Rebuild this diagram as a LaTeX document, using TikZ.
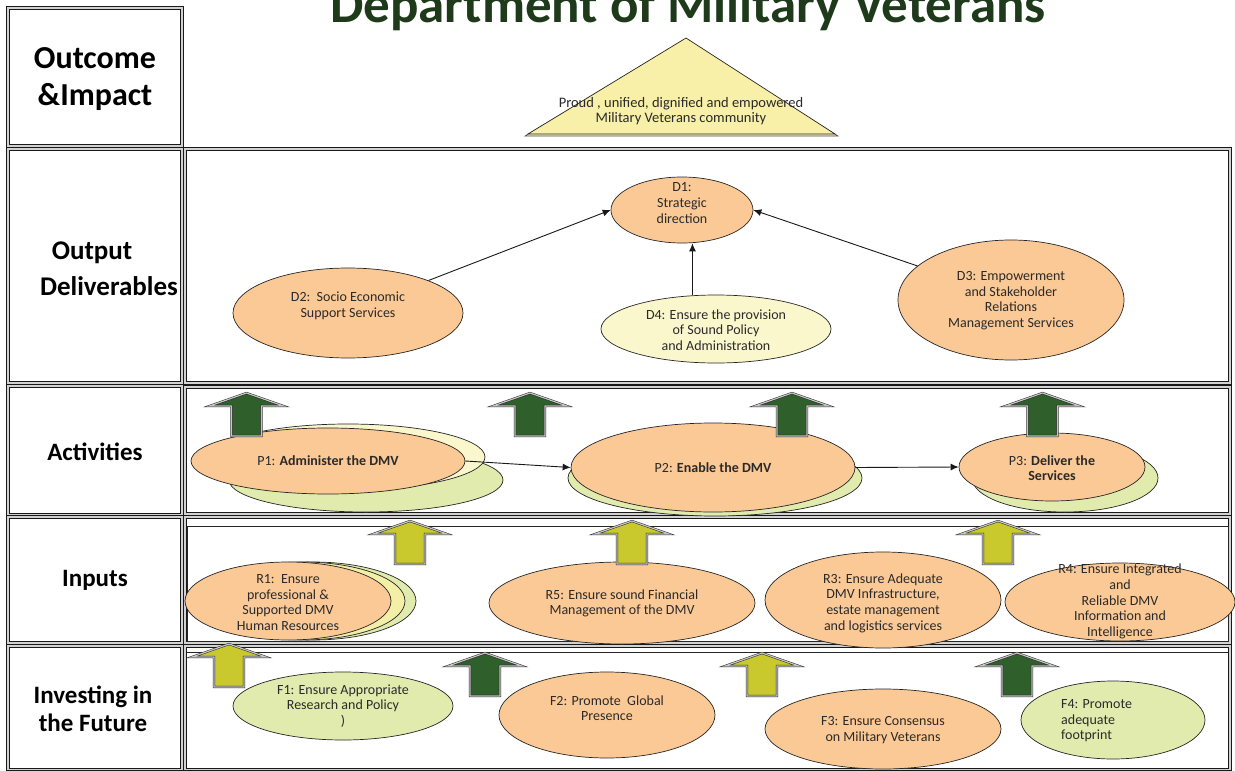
\documentclass[tikz,border=0pt]{standalone}
\usepackage{fontspec}
\setmainfont{Carlito}
\usetikzlibrary{shapes.geometric,arrows.meta}
\definecolor{peach}{HTML}{FBC996}
\definecolor{lgreen}{HTML}{E2EBAE}
\definecolor{lyellow}{HTML}{FBF7CC}
\definecolor{myellow}{HTML}{F3EFA6}
\definecolor{tri}{HTML}{F8EFA8}
\definecolor{dgreen}{HTML}{2F5F2B}
\definecolor{ygreen}{HTML}{C9C92E}
\definecolor{titlec}{HTML}{1E3A1B}
\definecolor{txtc}{HTML}{2A2A2A}
\tikzset{
  frame/.style={draw=black!90, line width=0.9pt, double=gray!35, double distance=1.3pt},
  oval/.style={ellipse, draw=black!85, line width=0.7pt, inner sep=0pt},
  etext/.style={align=center, text=txtc, font=\fontsize{14}{15.6}\selectfont, inner sep=0pt},
  rowlabel/.style={align=center, text=black, inner sep=0pt},
  link/.style={draw=black!90, line width=0.9pt, -{Latex[length=8pt,width=7pt]}},
  blk/.style={draw=black!85, line width=0.5pt, double=gray!45, double distance=1.2pt, line join=miter},
}
\newcommand\blockup[3]{% x, apex y, colour
  \path[blk, fill=#3] (#1,#2) -- ++(37,13) -- ++(-22,0) -- ++(0,30) -- ++(-30,0) -- ++(0,-30) -- ++(-22,0) -- cycle;
}
\begin{document}
\begin{tikzpicture}[x=1pt,y=-1pt]
\useasboundingbox (0,0) rectangle (1235,771);
\clip (0,0) rectangle (1235,771);

% title
\node[font=\bfseries\fontsize{53}{53}\selectfont, text=titlec, anchor=base, inner sep=0pt] (title) at (688,22) {Department of Military Veterans};

% frames
\draw[frame] (8,8) rectangle (182,146);
\draw[frame] (8,149) rectangle (182,383);
\draw[frame] (8,386) rectangle (182,515);
\draw[frame] (8,517) rectangle (182,643);
\draw[frame] (8,646) rectangle (182,769.5);
\draw[frame] (185,149) rectangle (1230,383);
\draw[frame] (185,387) rectangle (1230,514);
\draw[frame] (185,517) rectangle (1230,643);
\draw[black!85, line width=0.6pt] (187,526) rectangle (1228,641);
\draw[frame] (185,646) rectangle (1230,769.5);
\draw[black!85, line width=0.6pt] (187,652) -- (1228,652);

% row labels
\node[rowlabel, font=\bfseries\fontsize{32}{37}\selectfont] (lab1) at (95,79) {Outcome\\\&Impact};
\node[rowlabel, font=\bfseries\fontsize{27}{36}\selectfont, anchor=base] (lab2a) at (92,259) {Output};
\node[rowlabel, font=\bfseries\fontsize{27}{36}\selectfont, anchor=base] (lab2b) at (109,295) {Deliverables};
\node[rowlabel, font=\bfseries\fontsize{25}{28}\selectfont] (lab3) at (95,452) {Activities};
\node[rowlabel, font=\bfseries\fontsize{25}{28}\selectfont] (lab4) at (95,580) {Inputs};
\node[rowlabel, font=\bfseries\fontsize{25}{28}\selectfont] (lab5) at (93,709) {Investing in\\the Future};

% outcome triangle
\draw[draw=black!70, fill=tri, line width=0.6pt] (525,136) -- (684,40) -- (838,136) -- cycle;
\draw[draw=black!85, fill=tri, line width=0.7pt] (528,134) -- (686,38) -- (835,134) -- cycle;
\node[etext, font=\fontsize{14.5}{15.5}\selectfont] (outcome) at (681,111) {Proud , unified, dignified and empowered\\Military Veterans community};

% deliverables
\node[oval, fill=peach, minimum width=142, minimum height=66] (d1) at (682,210) {};
\node[oval, fill=peach, minimum width=230, minimum height=90] (d2) at (348,313) {};
\node[oval, fill=lyellow, minimum width=230, minimum height=68] (d4) at (716,329) {};
\node[oval, fill=peach, minimum width=226, minimum height=120] (d3) at (1011,300) {};
\node[etext] (d1t) at (682,203) {D1:\\Strategic\\direction};
\node[etext] (d2t) at (348,306) {D2:\ \ Socio Economic\\Support Services};
\node[etext] (d4t) at (716,330) {D4: Ensure the provision\\of Sound Policy\\and Administration};
\node[etext] (d3t) at (1011,300.5) {D3: Empowerment\\and Stakeholder\\Relations\\Management Services};
\draw[link] (d2.22) -- (d1.west);
\draw[link] (d4.125) -- (d4.125 |- d1.south);
\draw[link] (d3.160) -- (d1.east);

% activities
\node[oval, fill=lgreen, minimum width=274, minimum height=64] (p1c) at (366,480) {};
\node[oval, fill=lyellow, minimum width=274, minimum height=66] (p1b) at (348,457) {};
\node[oval, fill=peach, minimum width=274, minimum height=66] (p1) at (328,461) {};
\node[oval, fill=lgreen, minimum width=294, minimum height=76] (p2b) at (715,478) {};
\node[oval, fill=peach, minimum width=284, minimum height=89] (p2) at (713,467.5) {};
\node[oval, fill=lgreen, minimum width=186, minimum height=68] (p3b) at (1065,478) {};
\node[oval, fill=peach, minimum width=186, minimum height=68] (p3) at (1052,467) {};
\node[etext] (p1t) at (328,461) {P1: \textbf{Administer the DMV}};
\node[etext] (p2t) at (713,468) {P2: \textbf{Enable the DMV}};
\node[etext] (p3t) at (1052,468) {P3: \textbf{Deliver the}\\\textbf{Services}};
\draw[link] (p1.east) -- (p2.west);
\draw[link] (p2.east) -- (p3.west);

% inputs
\node[oval, fill=lgreen, minimum width=206, minimum height=78] (r1c) at (313,601) {};
\node[oval, fill=myellow, minimum width=206, minimum height=78] (r1b) at (302,601) {};
\node[oval, fill=peach, minimum width=206, minimum height=78] (r1) at (288,601) {};
\node[oval, fill=peach, minimum width=266, minimum height=82] (r5) at (622,603) {};
\node[oval, fill=peach, minimum width=236, minimum height=96] (r3) at (883,600) {};
\node[oval, fill=peach, minimum width=230, minimum height=78] (r4) at (1120,602) {};
\node[etext] (r1t) at (288,602.5) {R1:\ \ Ensure\\professional \&\\Supported DMV\\Human Resources};
\node[etext] (r5t) at (622,603.5) {R5: Ensure sound Financial\\Management of the DMV};
\node[etext] (r3t) at (883,603) {R3: Ensure Adequate\\DMV Infrastructure,\\estate management\\and logistics services};
\node[etext] (r4t) at (1120,601.5) {R4: Ensure Integrated\\and\\Reliable DMV\\Information and\\Intelligence};

% investing
\node[oval, fill=lgreen, minimum width=220, minimum height=68] (f1) at (343,706) {};
\node[oval, fill=peach, minimum width=216, minimum height=86] (f2) at (607,715) {};
\node[oval, fill=peach, minimum width=236, minimum height=80] (f3) at (883,729) {};
\node[oval, fill=lgreen, minimum width=184, minimum height=78] (f4) at (1113,720) {};
\node[etext] (f1t) at (343,706) {F1: Ensure Appropriate\\Research and Policy\\)};
\node[etext] (f2t) at (607,708) {F2: Promote\ \ Global\\Presence};
\node[etext] (f3t) at (883,730) {F3: Ensure Consensus\\on Military Veterans};
\node[etext, align=left, anchor=west] (f4t) at (1061,721) {F4: Promote\\adequate\\footprint};

% block arrows
\blockup{246.5}{393}{dgreen}
\blockup{530}{393}{dgreen}
\blockup{792}{393}{dgreen}
\blockup{1042.5}{393}{dgreen}
\blockup{410}{521}{ygreen}
\blockup{632}{521}{ygreen}
\blockup{998}{521}{ygreen}
\blockup{229}{644}{ygreen}
\blockup{485}{653}{dgreen}
\blockup{762}{653}{ygreen}
\blockup{1017}{653}{dgreen}
\end{tikzpicture}
\end{document}
